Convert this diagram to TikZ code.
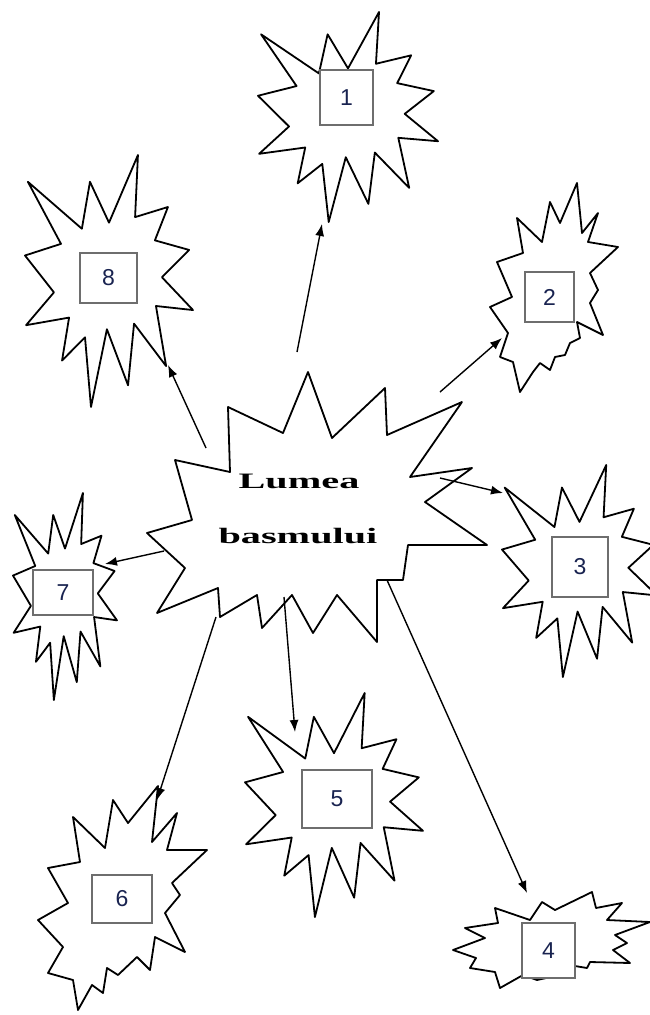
\documentclass[tikz,border=0pt]{standalone}
\usepackage{fontspec}
\setmainfont{Liberation Serif}
\newfontfamily\numfont{Liberation Sans}
\usetikzlibrary{arrows.meta}
\definecolor{boxgray}{RGB}{110,110,110}
\definecolor{numblue}{RGB}{25,35,80}
\tikzset{
  starline/.style={draw=black, line width=1.8pt, line join=round, fill=white},
  numbox/.style={draw=boxgray, line width=2.4pt, fill=white, inner sep=0pt,
    font=\numfont\fontsize{23}{23}\selectfont, text=numblue},
  link/.style={draw=black, line width=1.4pt, -{Latex[length=12pt,width=9pt]}},
  titletext/.style={font=\bfseries\fontsize{22}{22}\selectfont, inner sep=0pt}
}
\newcommand\explosion[4]{%
  \begin{scope}[shift={(#1,#2)},xscale=#3,yscale=#4]
    \path[starline] (0.5,0.2685)--(0.6723,0)--(0.6553,0.2465)--(0.8509,0.2063)
      --(0.7732,0.3387)--(0.9767,0.3767)--(0.8151,0.485)--(1,0.6153)
      --(0.7795,0.5992)--(0.8400,0.8377)--(0.6491,0.6693)--(0.6133,0.9137)
      --(0.4876,0.6915)--(0.3928,1)--(0.3572,0.7235)--(0.2205,0.8156)
      --(0.2624,0.6452)--(0.0063,0.6753)--(0.1723,0.5451)--(0,0.3988)
      --(0.2142,0.3526)--(0.0171,0.1063)--(0.3385,0.2926)--(0.3867,0.1063)--cycle;
  \end{scope}}
\begin{document}
\begin{tikzpicture}[x=1pt,y=-1pt]
\useasboundingbox (0,0) rectangle (650,1015);
\fill[white] (0,0) rectangle (650,1015);

% regular explosions
\explosion{258}{12}{180}{210}   % 1
\explosion{25}{155}{168}{252}   % 8
\explosion{502}{465}{155}{212}  % 3
\explosion{245}{693}{178}{224}  % 5
\explosion{13}{493}{104}{207}   % 7

% explosion 2
\path[starline] (577,183)--(582,233)--(598,213)--(588,242)--(618,247)--(590,273)
  --(598,290)--(590,303)--(603,335)--(577,322)--(580,338)--(570,343)--(565,355)
  --(555,357)--(550,370)--(540,363)--(533,372)--(520,392)--(513,362)--(500,357)
  --(508,333)--(490,307)--(512,297)--(497,262)--(523,253)--(517,218)--(542,242)
  --(550,202)--(560,223)--cycle;

% explosion 6
\path[starline] (73,817)--(105,848)--(113,800)--(128,823)--(158,786)--(152,842)
  --(177,813)--(167,850)--(207,850)--(172,883)--(180,895)--(165,913)--(185,952)
  --(155,937)--(150,970)--(137,957)--(118,975)--(107,968)--(103,993)--(92,985)
  --(78,1010)--(73,980)--(48,973)--(63,947)--(38,920)--(68,903)--(48,868)
  --(80,862)--cycle;

% explosion 4
\path[starline] (592,892)--(596,908)--(622,903)--(607,920)--(650,922)--(615,935)
  --(627,943)--(613,950)--(630,963)--(590,962)--(587,968)--(575,966)--(560,975)
  --(537,980)--(523,975)--(500,988)--(495,972)--(470,968)--(476,958)--(453,950)
  --(485,938)--(465,928)--(498,923)--(495,908)--(530,920)--(542,902)--(555,910)
  --cycle;

% central explosion
\path[starline] (308,372)--(332,438)--(385,388)--(387,435)--(462,402)--(410,477)
  --(472,468)--(425,502)--(487,545)--(408,545)--(403,580)--(377,580)--(377,642)
  --(337,595)--(313,633)--(292,595)--(262,628)--(257,595)--(220,617)--(218,588)
  --(157,613)--(185,568)--(147,533)--(192,520)--(175,460)--(230,472)--(228,407)
  --(283,433)--cycle;

\node[titletext] (title1) at (299,481) {\scalebox{1.83}[1]{Lumea}};
\node[titletext] (title2) at (298,536) {\scalebox{1.83}[1]{basmului}};

% number boxes
\node[numbox, minimum width=53, minimum height=55] (b1) at (346.5,97.5) {1};
\node[numbox, minimum width=49, minimum height=50] (b2) at (549.5,297) {2};
\node[numbox, minimum width=56, minimum height=60] (b3) at (580,567) {3};
\node[numbox, minimum width=53, minimum height=55] (b4) at (548.5,950.5) {4};
\node[numbox, minimum width=70, minimum height=58] (b5) at (337,799) {5};
\node[numbox, minimum width=60, minimum height=48] (b6) at (122,899) {6};
\node[numbox, minimum width=60, minimum height=45] (b7) at (63,592.5) {7};
\node[numbox, minimum width=57, minimum height=50] (b8) at (108.5,278) {8};

% connector end points
\coordinate (s1) at (297,352); \coordinate (t1) at (322,224);
\coordinate (s2) at (440,392); \coordinate (t2) at (502,338);
\coordinate (s3) at (440,478); \coordinate (t3) at (503,493);
\coordinate (s4) at (387,580); \coordinate (t4) at (527,893);
\coordinate (s5) at (284,597); \coordinate (t5) at (295,732);
\coordinate (s6) at (216,617); \coordinate (t6) at (157,800);
\coordinate (s7) at (164,551); \coordinate (t7) at (105,564);
\coordinate (s8) at (206,448); \coordinate (t8) at (168,365);

\draw[link] (s1) -- (t1);
\draw[link] (s2) -- (t2);
\draw[link] (s3) -- (t3);
\draw[link] (s4) -- (t4);
\draw[link] (s5) -- (t5);
\draw[link] (s6) -- (t6);
\draw[link] (s7) -- (t7);
\draw[link] (s8) -- (t8);
\end{tikzpicture}
\end{document}
